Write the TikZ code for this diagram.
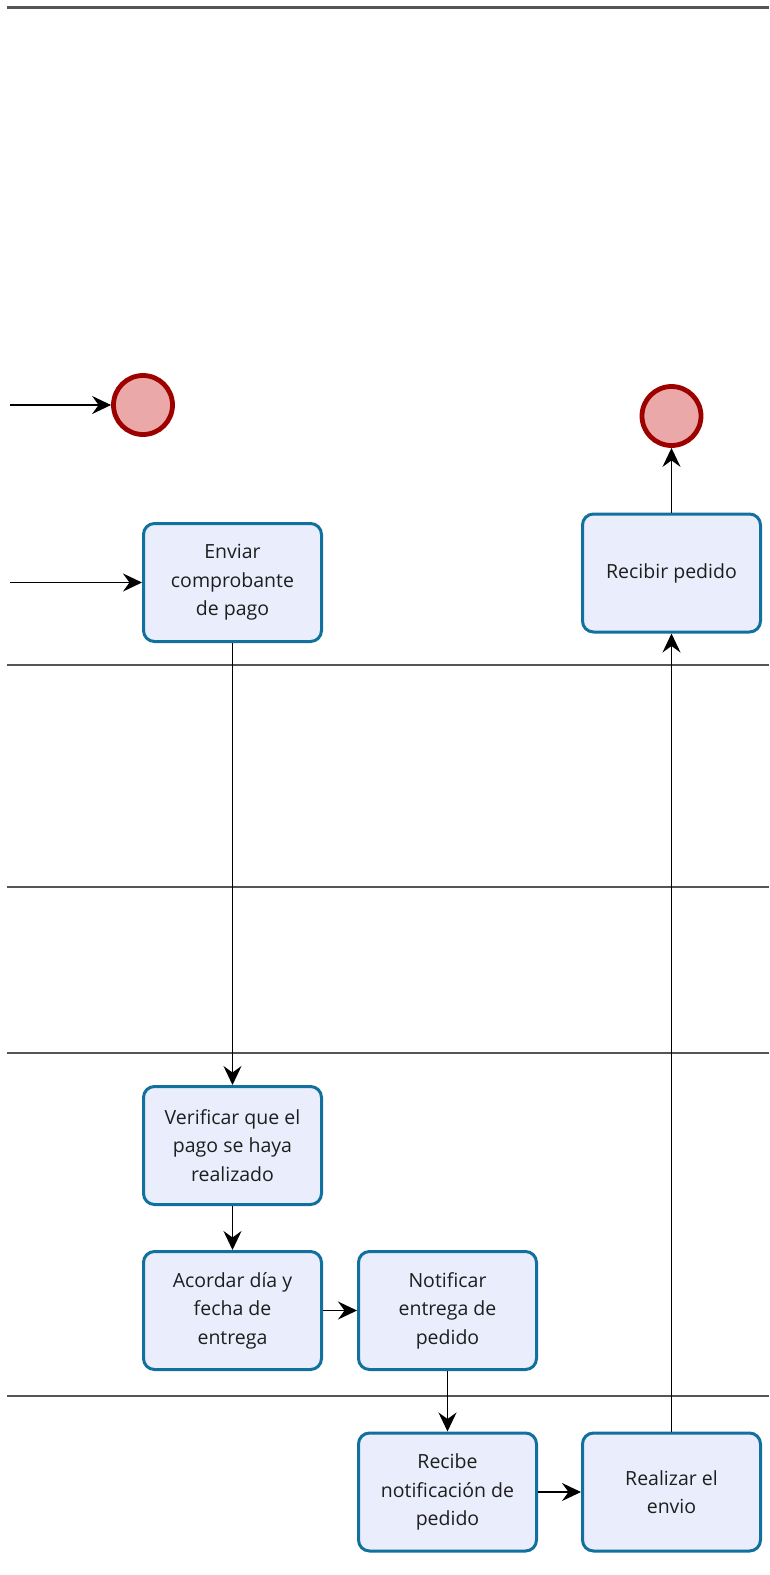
\documentclass[tikz,border=0pt]{standalone}
\usepackage{fontspec}
\setmainfont{Open Sans}
\usetikzlibrary{arrows.meta}
\definecolor{taskfill}{RGB}{234,238,252}
\definecolor{taskdraw}{RGB}{18,112,158}
\definecolor{endfill}{RGB}{235,168,168}
\definecolor{enddraw}{RGB}{158,0,0}
\definecolor{lanegray}{RGB}{85,85,85}
\definecolor{txt}{RGB}{30,30,30}
\tikzset{
  task/.style={draw=taskdraw, fill=taskfill, line width=3pt, rounded corners=11pt,
    minimum width=178pt, minimum height=118pt, align=center, text=txt,
    font=\fontsize{19.5}{28.6}\selectfont, inner sep=2pt},
  endev/.style={circle, draw=enddraw, fill=endfill, line width=4.8pt,
    minimum size=59pt, inner sep=0pt},
  flow/.style={line width=1.6pt, -{Stealth[length=19pt,width=18pt,inset=6.5pt]}},
  lane/.style={draw=lanegray, line width=2pt},
  toplane/.style={draw=lanegray, line width=3pt}
}
\begin{document}
\begin{tikzpicture}[x=1pt,y=-1pt]
\useasboundingbox (0,0) rectangle (769,1575);
% lane separators
\draw[toplane] (7,7.5) -- (769,7.5);
\draw[lane] (7,665) -- (769,665);
\draw[lane] (7,887) -- (769,887);
\draw[lane] (7,1053) -- (769,1053);
\draw[lane] (7,1396) -- (769,1396);
% events
\node[endev] (end1) at (143,405) {};
\node[endev] (end2) at (671.5,416) {};
% tasks
\node[task] (enviar) at (232.5,582.5) {Enviar\\comprobante\\de pago};
\node[task] (recibir) at (671.5,573) {Recibir pedido};
\node[task] (verificar) at (232.5,1145.5) {Verificar que el\\pago se haya\\realizado};
\node[task] (acordar) at (232.5,1310.5) {Acordar día y\\fecha de\\entrega};
\node[task] (notificar) at (447.5,1310.5) {Notificar\\entrega de\\pedido};
\node[task] (recibe) at (447.5,1492) {Recibe\\notificación de\\pedido};
\node[task] (realizar) at (671.5,1492) {Realizar el\\envio};
% free ends
\coordinate (in1) at (10,405);
\coordinate (in2) at (10,582.5);
% flows
\draw[flow] (in1) -- (end1);
\draw[flow] (in2) -- (enviar);
\draw[flow] (enviar) -- (verificar);
\draw[flow] (verificar) -- (acordar);
\draw[flow] (acordar) -- (notificar);
\draw[flow] (notificar) -- (recibe);
\draw[flow] (recibe) -- (realizar);
\draw[flow] (realizar) -- (recibir);
\draw[flow] (recibir) -- (end2);
\end{tikzpicture}
\end{document}
